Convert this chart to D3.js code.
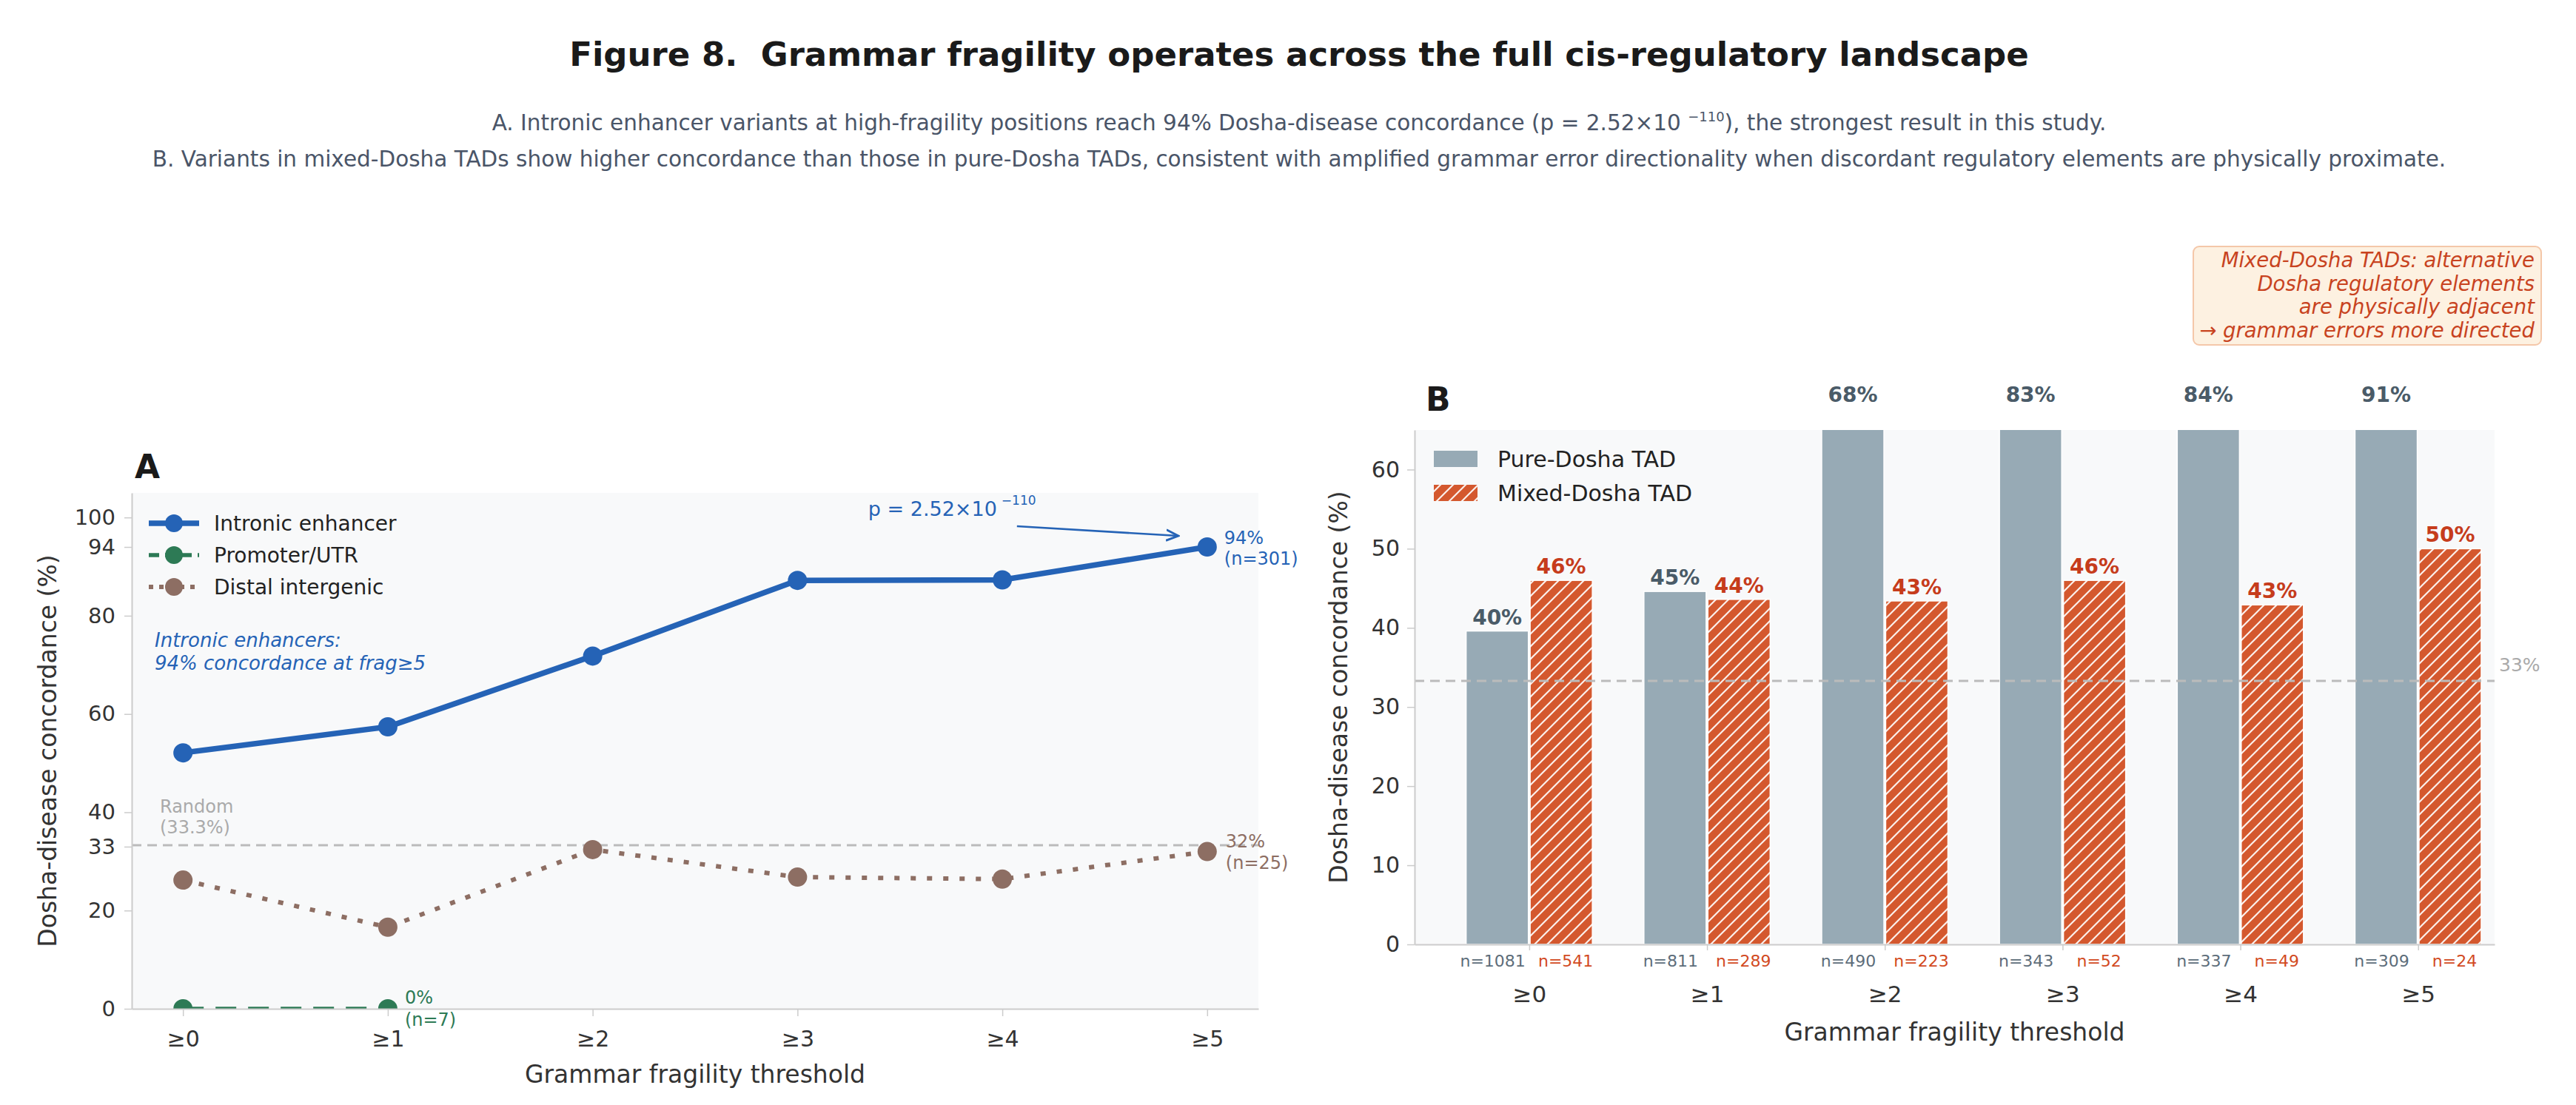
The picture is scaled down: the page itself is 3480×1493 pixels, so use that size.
<!DOCTYPE html>
<html>
<head>
<meta charset="utf-8">
<script src="https://cdn.jsdelivr.net/npm/d3@7"></script>
<style>
  body { margin: 0; background: #fff; }
  text { font-family: 'DejaVu Sans', sans-serif; }
</style>
</head>
<body>
<div id="fig"></div>
<script>
// -- DATA --
const thresholds = ['≥0', '≥1', '≥2', '≥3', '≥4', '≥5']

// panel A: concordance by region type
const intronic = [52.1, 57.4, 71.8, 87.2, 87.3, 94.0]
const promoter = [0, 0]
const distal = [26.2, 16.6, 32.4, 26.8, 26.4, 32.0]
const lastN = {intronic: 301, promoter: 7, distal: 25}
const yTicksA = [0, 20, 33, 40, 60, 80, 94, 100]
const randomLevel = 33.3

// panel B: pure vs mixed TADs
const pureTAD = [39.6, 44.6, 68.2, 83.0, 84.1, 91.0]
const mixedTAD = [46.0, 43.6, 43.4, 46.0, 42.9, 50.0]
const pureN = [1081, 811, 490, 343, 337, 309]
const mixedN = [541, 289, 223, 52, 49, 24]
const yTicksB = [0, 10, 20, 30, 40, 50, 60]

// -- GLOBAL --
const W = 3480, H = 1493
const boxA = {left: 178, right: 1700, top: 666, bottom: 1363}
const boxB = {left: 1911, right: 3370, top: 581, bottom: 1276}

const cBlue = '#2563b6', cGreen = '#2d7a55', cBrown = '#8d6e63'
const cPure = '#97aab5', cMixed = '#d4582e'
const cGrid = '#cccccc', cRand = '#bbbbbb'

const svg = d3.select('#fig').append('svg')
  .attr('width', W)
  .attr('height', H)
  .style('background', '#fff')

const defs = svg.append('defs')

// hatch for mixed bars
const hatch = defs.append('pattern')
  .attr('id', 'hatch')
  .attr('patternUnits', 'userSpaceOnUse')
  .attr('width', 17).attr('height', 17)
hatch.append('path')
  .attr('d', 'M-4,4 L4,-4 M0,17 L17,0 M13,21 L21,13')
  .style('stroke', '#fff').style('stroke-width', 2.2).style('stroke-opacity', 0.9)

const arrow = defs.append('marker')
  .attr('id', 'arrowhead')
  .attr('viewBox', '0 0 10 10')
  .attr('refX', 9).attr('refY', 5)
  .attr('markerWidth', 7).attr('markerHeight', 7)
  .attr('orient', 'auto')
arrow.append('path').attr('d', 'M0,1 L9,5 L0,9').style('fill', 'none').style('stroke', cBlue).style('stroke-width', 1.6)

function clipFor(id, box) {
  defs.append('clipPath').attr('id', id)
    .append('rect')
    .attr('x', box.left).attr('y', box.top)
    .attr('width', box.right - box.left).attr('height', box.bottom - box.top)
}
clipFor('clipA', boxA)
clipFor('clipB', boxB)

function styleAxis(g, size) {
  g.select('.domain').style('stroke', cGrid).style('stroke-width', 2)
  g.selectAll('.tick line').style('stroke', cGrid).style('stroke-width', 1.5)
  g.selectAll('.tick text')
    .style('font-family', "'DejaVu Sans', sans-serif")
    .style('font-size', size + 'px')
    .style('fill', '#333')
}

function stackedText(g, x, y, lines, gap, opts) {
  lines.forEach((s, i) => {
    g.append('text')
      .attr('x', x).attr('y', y + i * gap)
      .attr('dominant-baseline', 'central')
      .style('font-size', opts.size + 'px')
      .style('fill', opts.color)
      .style('font-style', opts.italic ? 'italic' : 'normal')
      .style('text-anchor', opts.anchor || 'start')
      .text(s)
  })
}

// -- TITLES --
function plotTitles() {
  svg.append('text')
    .attr('x', 1755).attr('y', 89)
    .style('text-anchor', 'middle')
    .style('font-weight', 'bold')
    .style('font-size', '45px')
    .style('white-space', 'pre')
    .style('fill', '#1a1a1a')
    .text('Figure 8.  Grammar fragility operates across the full cis-regulatory landscape')

  var s1 = svg.append('text')
    .attr('x', 1755).attr('y', 176)
    .style('text-anchor', 'middle')
    .style('font-size', '29.5px')
    .style('fill', '#4a5568')
  s1.append('tspan').text('A. Intronic enhancer variants at high-fragility positions reach 94% Dosha-disease concordance (p = 2.52×10 ')
  s1.append('tspan').attr('dy', -12).style('font-size', '18px').text('−110')
  s1.append('tspan').attr('dy', 12).text('), the strongest result in this study.')

  svg.append('text')
    .attr('x', 1755).attr('y', 225)
    .style('text-anchor', 'middle')
    .style('font-size', '29.5px')
    .style('fill', '#4a5568')
    .text('B. Variants in mixed-Dosha TADs show higher concordance than those in pure-Dosha TADs, consistent with amplified grammar error directionality when discordant regulatory elements are physically proximate.')
}

// -- PANEL A --
function plotLines() {
  var g = svg.append('g')

  var xA = d3.scaleLinear().domain([-0.25, 5.25]).range([boxA.left, boxA.right])
  var yA = d3.scaleLinear().domain([0, 105]).range([boxA.bottom, boxA.top])

  g.append('rect')
    .attr('x', boxA.left).attr('y', boxA.top)
    .attr('width', boxA.right - boxA.left).attr('height', boxA.bottom - boxA.top)
    .style('fill', '#f8f9fa')

  // random baseline
  g.append('line')
    .attr('x1', boxA.left).attr('x2', boxA.right)
    .attr('y1', yA(randomLevel)).attr('y2', yA(randomLevel))
    .style('stroke', cRand).style('stroke-width', 3).style('stroke-dasharray', '13,8')

  stackedText(g, boxA.left + 38, yA(randomLevel) - 52, ['Random', '(33.3%)'], 28,
    {size: 24, color: '#aaaaaa'})

  var series = [
    {name: 'Distal intergenic', values: distal, color: cBrown, dash: '7,15', legDash: '6,8', width: 6},
    {name: 'Promoter/UTR', values: promoter, color: cGreen, dash: '28,16', legDash: '14,8', width: 5.5},
    {name: 'Intronic enhancer', values: intronic, color: cBlue, dash: null, legDash: null, width: 7.5}
  ]

  var line = d3.line().x((d, i) => xA(i)).y(d => yA(d))
  var gPlot = g.append('g').attr('clip-path', 'url(#clipA)')

  series.forEach(s => {
    gPlot.append('path')
      .datum(s.values)
      .attr('d', line)
      .style('fill', 'none')
      .style('stroke', s.color)
      .style('stroke-width', s.width)
      .style('stroke-dasharray', s.dash)
    gPlot.selectAll(null)
      .data(s.values)
      .enter().append('circle')
      .attr('cx', (d, i) => xA(i))
      .attr('cy', d => yA(d))
      .attr('r', 13)
      .style('fill', s.color)
  })

  // axes
  var yAxis = d3.axisLeft(yA).tickValues(yTicksA).tickSize(10).tickPadding(12).tickSizeOuter(0)
  var gy = g.append('g').attr('transform', 'translate(' + boxA.left + ',0)').call(yAxis)
  styleAxis(gy, 29)

  var xAxis = d3.axisBottom(xA).tickValues(d3.range(thresholds.length))
    .tickFormat(i => thresholds[i]).tickSize(10).tickPadding(20).tickSizeOuter(0)
  var gx = g.append('g').attr('transform', 'translate(0,' + boxA.bottom + ')').call(xAxis)
  styleAxis(gx, 30)

  g.append('text')
    .attr('x', (boxA.left + boxA.right) / 2).attr('y', 1451)
    .attr('dominant-baseline', 'central')
    .style('text-anchor', 'middle').style('font-size', '33px').style('fill', '#333')
    .text('Grammar fragility threshold')

  g.append('text')
    .attr('transform', 'translate(64,' + ((boxA.top + boxA.bottom) / 2) + ') rotate(-90)')
    .attr('dominant-baseline', 'central')
    .style('text-anchor', 'middle').style('font-size', '33px').style('fill', '#333')
    .text('Dosha-disease concordance (%)')

  g.append('text')
    .attr('x', 182).attr('y', 646)
    .style('font-weight', 'bold').style('font-size', '44px').style('fill', '#1a1a1a')
    .text('A')

  // end labels
  var iLast = intronic.length - 1
  stackedText(g, xA(iLast) + 23, yA(intronic[iLast]) - 12,
    [d3.format('.0f')(intronic[iLast]) + '%', '(n=' + lastN.intronic + ')'], 28, {size: 24, color: cBlue})
  var dLast = distal.length - 1
  stackedText(g, xA(dLast) + 25, yA(distal[dLast]) - 14,
    [d3.format('.0f')(distal[dLast]) + '%', '(n=' + lastN.distal + ')'], 29, {size: 24, color: cBrown})
  var pLast = promoter.length - 1
  stackedText(g, xA(pLast) + 23, yA(promoter[pLast]) - 15,
    [d3.format('.0f')(promoter[pLast]) + '%', '(n=' + lastN.promoter + ')'], 30, {size: 24, color: cGreen})

  // p-value annotation
  var pt = g.append('text')
    .attr('x', xA(iLast) - 458).attr('y', yA(intronic[iLast]) - 52)
    .attr('dominant-baseline', 'central')
    .style('font-size', '27px').style('fill', cBlue)
  pt.append('tspan').text('p = 2.52×10')
  pt.append('tspan').attr('dx', 6).attr('dy', -11).style('font-size', '17px').text('−110')

  g.append('line')
    .attr('x1', xA(iLast) - 257).attr('y1', yA(intronic[iLast]) - 28)
    .attr('x2', xA(iLast) - 39).attr('y2', yA(intronic[iLast]) - 15)
    .style('stroke', cBlue).style('stroke-width', 2.6)
    .attr('marker-end', 'url(#arrowhead)')

  stackedText(g, 209, 865, ['Intronic enhancers:', '94% concordance at frag≥5'], 31,
    {size: 26, color: cBlue, italic: true})

  // legend
  var gLeg = g.append('g')
  series.slice().reverse().forEach((s, i) => {
    var y = 707 + i * 43
    gLeg.append('line')
      .attr('x1', 201).attr('x2', 269).attr('y1', y).attr('y2', y)
      .style('stroke', s.color).style('stroke-width', s.width)
      .style('stroke-dasharray', s.legDash)
    gLeg.append('circle').attr('cx', 235).attr('cy', y).attr('r', 12).style('fill', s.color)
    gLeg.append('text')
      .attr('x', 289).attr('y', y)
      .attr('dominant-baseline', 'central')
      .style('font-size', '28px').style('fill', '#222')
      .text(s.name)
  })
}

// -- PANEL B --
function plotBars() {
  var g = svg.append('g')

  var xB = d3.scaleLinear().domain([-0.645, 5.43]).range([boxB.left, boxB.right])
  var yB = d3.scaleLinear().domain([0, 65]).range([boxB.bottom, boxB.top])
  var bw = xB(0.35) - xB(0)
  var off = 0.18

  g.append('rect')
    .attr('x', boxB.left).attr('y', boxB.top)
    .attr('width', boxB.right - boxB.left).attr('height', boxB.bottom - boxB.top)
    .style('fill', '#f8f9fa')

  var gBars = g.append('g').attr('clip-path', 'url(#clipB)')

  gBars.selectAll('rect.pure')
    .data(pureTAD)
    .enter().append('rect')
    .attr('class', 'pure')
    .attr('x', (d, i) => xB(i - off) - bw / 2)
    .attr('y', d => yB(d))
    .attr('width', bw)
    .attr('height', d => yB(0) - yB(d))
    .style('fill', cPure)
    .style('stroke', '#fff').style('stroke-width', 1.5)

  gBars.selectAll('rect.mixed')
    .data(mixedTAD)
    .enter().append('rect')
    .attr('class', 'mixed')
    .attr('x', (d, i) => xB(i + off) - bw / 2)
    .attr('y', d => yB(d))
    .attr('width', bw)
    .attr('height', d => yB(0) - yB(d))
    .style('fill', cMixed)
    .style('stroke', '#fff').style('stroke-width', 1.5)

  gBars.selectAll('rect.hatch')
    .data(mixedTAD)
    .enter().append('rect')
    .attr('class', 'hatch')
    .attr('x', (d, i) => xB(i + off) - bw / 2)
    .attr('y', d => yB(d))
    .attr('width', bw)
    .attr('height', d => yB(0) - yB(d))
    .style('fill', 'url(#hatch)')

  // random baseline
  g.append('line')
    .attr('x1', boxB.left).attr('x2', boxB.right)
    .attr('y1', yB(randomLevel)).attr('y2', yB(randomLevel))
    .style('stroke', cRand).style('stroke-width', 3).style('stroke-dasharray', '13,8')
  g.append('text')
    .attr('x', boxB.right + 6).attr('y', yB(randomLevel) - 21)
    .attr('dominant-baseline', 'central')
    .style('font-size', '25px').style('fill', '#aaaaaa')
    .text('33%')

  // value labels
  var fmt = d => d3.format('.0f')(d) + '%'
  g.selectAll('text.vpure')
    .data(pureTAD)
    .enter().append('text')
    .attr('x', (d, i) => xB(i - off))
    .attr('y', d => d > 65 ? yB(65) - 38 : yB(d) - 9)
    .style('text-anchor', 'middle').style('font-weight', 'bold')
    .style('font-size', '28px').style('fill', '#4a5b68')
    .text(fmt)
  g.selectAll('text.vmixed')
    .data(mixedTAD)
    .enter().append('text')
    .attr('x', (d, i) => xB(i + off))
    .attr('y', d => yB(d) - 9)
    .style('text-anchor', 'middle').style('font-weight', 'bold')
    .style('font-size', '28px').style('fill', '#c63c1c')
    .text(fmt)

  // n labels
  g.selectAll('text.npure')
    .data(pureN)
    .enter().append('text')
    .attr('x', (d, i) => xB(i - off) - 6)
    .attr('y', boxB.bottom + 22)
    .attr('dominant-baseline', 'central')
    .style('text-anchor', 'middle').style('font-size', '22px').style('fill', '#5d6d7a')
    .text(d => 'n=' + d)
  g.selectAll('text.nmixed')
    .data(mixedN)
    .enter().append('text')
    .attr('x', (d, i) => xB(i + off) + 6)
    .attr('y', boxB.bottom + 22)
    .attr('dominant-baseline', 'central')
    .style('text-anchor', 'middle').style('font-size', '22px').style('fill', '#d24a22')
    .text(d => 'n=' + d)

  // axes
  var yAxis = d3.axisLeft(yB).tickValues(yTicksB).tickSize(10).tickPadding(10).tickSizeOuter(0)
  var gy = g.append('g').attr('transform', 'translate(' + boxB.left + ',0)').call(yAxis)
  styleAxis(gy, 30)

  var xAxis = d3.axisBottom(xB).tickValues(d3.range(thresholds.length))
    .tickFormat(i => thresholds[i]).tickSize(8).tickPadding(48).tickSizeOuter(0)
  var gx = g.append('g').attr('transform', 'translate(0,' + boxB.bottom + ')').call(xAxis)
  styleAxis(gx, 31)

  g.append('text')
    .attr('x', (boxB.left + boxB.right) / 2).attr('y', 1394)
    .attr('dominant-baseline', 'central')
    .style('text-anchor', 'middle').style('font-size', '33px').style('fill', '#333')
    .text('Grammar fragility threshold')

  g.append('text')
    .attr('transform', 'translate(1808,' + ((boxB.top + boxB.bottom) / 2) + ') rotate(-90)')
    .attr('dominant-baseline', 'central')
    .style('text-anchor', 'middle').style('font-size', '33px').style('fill', '#333')
    .text('Dosha-disease concordance (%)')

  g.append('text')
    .attr('x', 1926).attr('y', 555)
    .style('font-weight', 'bold').style('font-size', '44px').style('fill', '#1a1a1a')
    .text('B')

  // legend
  var leg = [
    {name: 'Pure-Dosha TAD', fill: cPure, hatch: false},
    {name: 'Mixed-Dosha TAD', fill: cMixed, hatch: true}
  ]
  leg.forEach((l, i) => {
    var y = 620 + i * 46
    g.append('rect').attr('x', 1937).attr('y', y - 11).attr('width', 59).attr('height', 22)
      .style('fill', l.fill)
    if (l.hatch) {
      g.append('rect').attr('x', 1937).attr('y', y - 11).attr('width', 59).attr('height', 22)
        .style('fill', 'url(#hatch)')
    }
    g.append('text')
      .attr('x', 2023).attr('y', y)
      .attr('dominant-baseline', 'central')
      .style('font-size', '30px').style('fill', '#222')
      .text(l.name)
  })

  // note box
  var note = ['Mixed-Dosha TADs: alternative', 'Dosha regulatory elements',
    'are physically adjacent', '→ grammar errors more directed']
  g.append('rect')
    .attr('x', 2963).attr('y', 333).attr('width', 470).attr('height', 133)
    .attr('rx', 8)
    .style('fill', '#fdf1e1').style('stroke', '#f4c7a9').style('stroke-width', 2)
  stackedText(g, 3424, 351, note, 31.7, {size: 27.5, color: '#c8431f', italic: true, anchor: 'end'})
}

// -- MAIN --
plotTitles()
plotLines()
plotBars()
</script>
</body>
</html>
